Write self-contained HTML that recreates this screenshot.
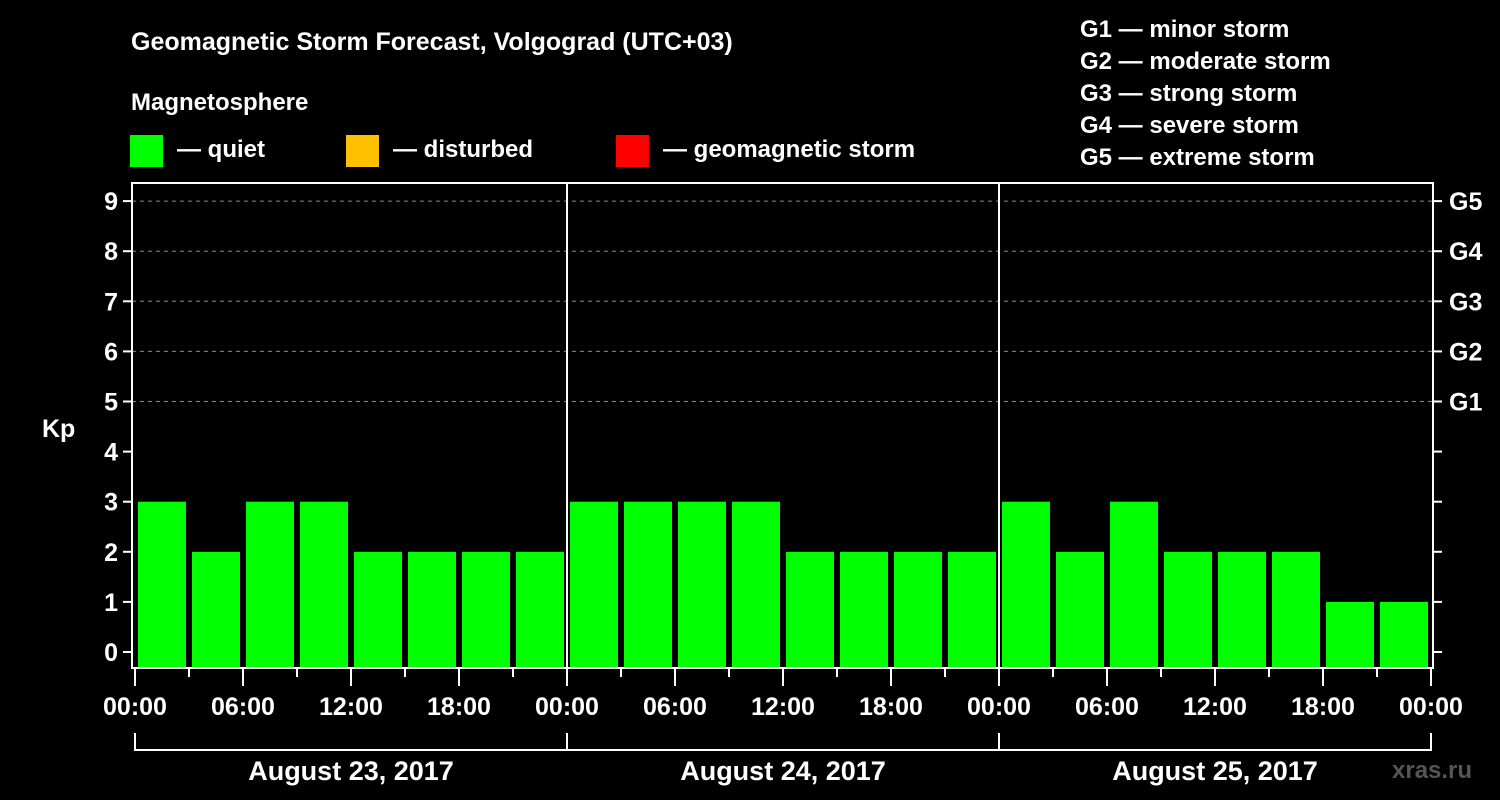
<!DOCTYPE html>
<html><head><meta charset="utf-8"><style>
html,body{margin:0;padding:0;background:#000;}
svg{display:block;font-family:"Liberation Sans",Arial,sans-serif;font-weight:bold;}
</style></head><body>
<svg id="chart" width="1500" height="800" viewBox="0 0 1500 800">
<rect width="1500" height="800" fill="#000"/>
<text x="131" y="50" font-size="25" fill="#fff">Geomagnetic Storm Forecast, Volgograd (UTC+03)</text>
<text x="131" y="110" font-size="24" fill="#fff">Magnetosphere</text>
<g><rect x="130" y="135" width="33" height="32" fill="#00ff00"/><text x="177" y="157" font-size="24" fill="#fff">— quiet</text></g>
<g><rect x="346" y="135" width="33" height="32" fill="#ffc000"/><text x="393" y="157" font-size="24" fill="#fff">— disturbed</text></g>
<g><rect x="616" y="135" width="33" height="32" fill="#ff0000"/><text x="663" y="157" font-size="24" fill="#fff">— geomagnetic storm</text></g>
<g font-size="24" fill="#fff">
<text x="1080" y="37">G1 — minor storm</text>
<text x="1080" y="69">G2 — moderate storm</text>
<text x="1080" y="101">G3 — strong storm</text>
<text x="1080" y="133">G4 — severe storm</text>
<text x="1080" y="165">G5 — extreme storm</text>
</g>
<text x="42" y="437" font-size="25" fill="#fff">Kp</text>
<text x="1392" y="778" font-size="24" fill="#555" font-weight="bold">xras.ru</text>
<g id="grid"></g><g id="bars"></g><g id="axes"></g>
</svg>
<script>
const days = ["August 23, 2017","August 24, 2017","August 25, 2017"];
const kpValues = [3,2,3,3,2,2,2,2, 3,3,3,3,2,2,2,2, 3,2,3,2,2,2,1,1];
const yTicks = [0,1,2,3,4,5,6,7,8,9];
const gLabels = ["G1","G2","G3","G4","G5"];
const gLevels = [5,6,7,8,9];
const hourLabels = ["00:00","06:00","12:00","18:00"];

const NS="http://www.w3.org/2000/svg";
const L=132,R=1433,T=183,B=668;
const x0=135, pxPerHour=18;
const y=v=>652-v*50.1;
const x=h=>x0+h*pxPerHour;
function mk(tag,attrs,parent){const e=document.createElementNS(NS,tag);for(const k in attrs)e.setAttribute(k,attrs[k]);parent.appendChild(e);return e;}
const grid=document.getElementById('grid'),bars=document.getElementById('bars'),axes=document.getElementById('axes');

gLevels.forEach((g,i)=>{
  const ln=mk('line',{x1:L,x2:R,y1:y(g),y2:y(g),stroke:'#888','stroke-width':1,'stroke-dasharray':'4,4'},grid);
  
  
  const t=mk('text',{x:1449,y:y(g)+9,'font-size':25,fill:'#fff'},axes);t.textContent=gLabels[i];
  
  
});

kpValues.forEach((v,i)=>{
  const r=mk('rect',{x:x(i*3)+3,y:y(v),width:48,height:B-y(v),fill:v>=5?'#ff0000':(v>=4?'#ffc000':'#00ff00')},bars);
  
  
});

const frame=mk('rect',{x:L,y:T,width:R-L,height:B-T,fill:'none',stroke:'#fff','stroke-width':2},axes);


for(let d=1;d<days.length;d++){
  const s=mk('line',{x1:x(d*24),x2:x(d*24),y1:T,y2:B,stroke:'#fff','stroke-width':2},axes);
  
  
}
yTicks.forEach(v=>{
  mk('line',{x1:L-9,x2:L,y1:y(v),y2:y(v),stroke:'#fff','stroke-width':2},axes);
  mk('line',{x1:R,x2:R+9,y1:y(v),y2:y(v),stroke:'#fff','stroke-width':2},axes);
  const t=mk('text',{x:L-14,y:y(v)+9,'font-size':25,fill:'#fff','text-anchor':'end'},axes);t.textContent=v;
  
  
});
for(let h=0;h<=days.length*24;h+=3){
  const long=h%6===0;
  mk('line',{x1:x(h),x2:x(h),y1:B,y2:B+(long?18:9),stroke:'#fff','stroke-width':2},axes);
  if(long){
    const t=mk('text',{x:x(h),y:715,'font-size':25,fill:'#fff','text-anchor':'middle'},axes);
    t.textContent=hourLabels[(h/6)%4];
    
    
  }
}
days.forEach((d,i)=>{
  const a=x(i*24),b=x((i+1)*24);
  mk('path',{d:`M${a},733V750H${b}`+(i===days.length-1?`V733`:''),stroke:'#fff','stroke-width':2,fill:'none'},axes);
  if(i>0) mk('line',{x1:a,x2:a,y1:733,y2:750,stroke:'#fff','stroke-width':2},axes);
  const t=mk('text',{x:(a+b)/2,y:780,'font-size':27,fill:'#fff','text-anchor':'middle'},axes);t.textContent=d;
  
  
});
</script>
</body></html>
